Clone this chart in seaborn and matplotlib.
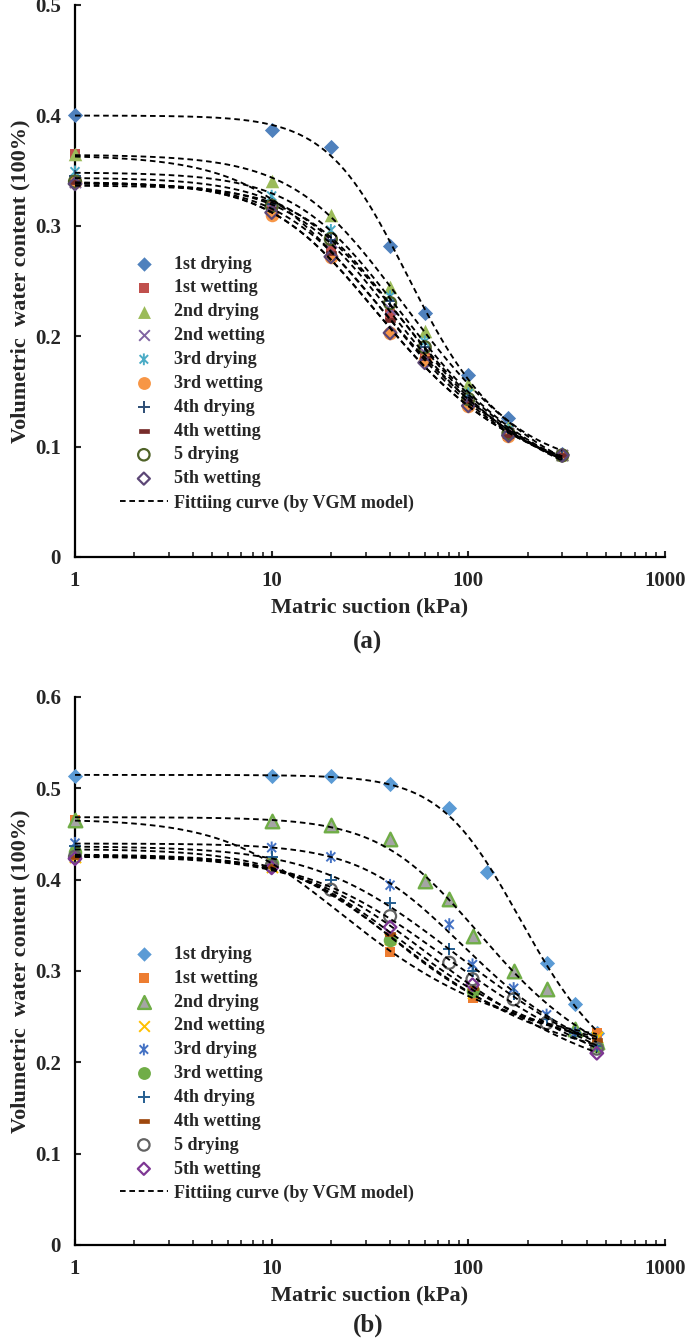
import numpy as np
import matplotlib
matplotlib.use("Agg")
import matplotlib.pyplot as plt
import seaborn as sns
from matplotlib.path import Path
from matplotlib.ticker import FuncFormatter, FixedLocator, LogLocator, NullFormatter

# ---- data ----
SERIES = ["1st drying", "1st wetting", "2nd drying", "2nd wetting", "3rd drying",
          "3rd wetting", "4th drying", "4th wetting", "5 drying", "5th wetting"]
FIT_LABEL = "Fittiing curve (by VGM model)"

# panel (a): every series measured at the same suctions
suction_a = [1, 10, 20, 40, 60, 100, 160, 300]
a_dry1 = [0.400, 0.387, 0.371, 0.282, 0.221, 0.165, 0.126, 0.093]
a_wet1 = [0.365, 0.318, 0.280, 0.220, 0.180, 0.140, 0.110, 0.092]
a_dry2 = [0.365, 0.341, 0.310, 0.245, 0.205, 0.157, 0.118, 0.093]
a_wet2 = [0.340, 0.315, 0.285, 0.225, 0.185, 0.140, 0.112, 0.092]
a_dry3 = [0.349, 0.327, 0.296, 0.236, 0.195, 0.148, 0.115, 0.092]
a_wet3 = [0.340, 0.310, 0.272, 0.203, 0.178, 0.137, 0.110, 0.092]
a_dry4 = [0.345, 0.320, 0.287, 0.232, 0.190, 0.145, 0.113, 0.092]
a_wet4 = [0.340, 0.315, 0.275, 0.215, 0.180, 0.140, 0.110, 0.092]
a_dry5 = [0.340, 0.318, 0.288, 0.230, 0.190, 0.143, 0.112, 0.092]
a_wet5 = [0.338, 0.312, 0.272, 0.203, 0.176, 0.137, 0.110, 0.092]

# panel (b)
b_suction_dry1 = [1, 10, 20, 40, 80, 125, 250, 350, 450]
b_dry1 = [0.513, 0.513, 0.513, 0.505, 0.478, 0.408, 0.309, 0.264, 0.232]
b_suction_dry2 = [1, 10, 20, 40, 60, 80, 105, 170, 250, 350, 450]
b_dry2 = [0.465, 0.464, 0.460, 0.444, 0.398, 0.379, 0.338, 0.300, 0.280, 0.236, 0.222]
b_suction_dry34 = [1, 10, 20, 40, 80, 105, 170, 250, 350, 450]
b_dry3 = [0.440, 0.435, 0.425, 0.394, 0.351, 0.307, 0.281, 0.252, 0.232, 0.222]
b_dry4 = [0.437, 0.425, 0.400, 0.374, 0.324, 0.300, 0.275, 0.247, 0.232, 0.218]
b_suction_dry5 = [1, 10, 20, 40, 80, 105, 170, 250, 450]
b_dry5 = [0.425, 0.415, 0.389, 0.360, 0.309, 0.291, 0.269, 0.243, 0.215]
b_suction_wet = [1, 10, 40, 105, 450]
b_wet1 = [0.465, 0.418, 0.321, 0.270, 0.232]
b_wet2 = [0.425, 0.414, 0.335, 0.276, 0.228]
b_wet3 = [0.430, 0.418, 0.334, 0.278, 0.218]
b_wet4 = [0.425, 0.415, 0.340, 0.281, 0.225]
b_wet5 = [0.423, 0.413, 0.348, 0.285, 0.210]

panel_a = [(suction_a, v) for v in
           [a_dry1, a_wet1, a_dry2, a_wet2, a_dry3, a_wet3, a_dry4, a_wet4, a_dry5, a_wet5]]
panel_b = [(b_suction_dry1, b_dry1), (b_suction_wet, b_wet1),
           (b_suction_dry2, b_dry2), (b_suction_wet, b_wet2),
           (b_suction_dry34, b_dry3), (b_suction_wet, b_wet3),
           (b_suction_dry34, b_dry4), (b_suction_wet, b_wet4),
           (b_suction_dry5, b_dry5), (b_suction_wet, b_wet5)]

# ---- marker styles ----
STAR = Path([(0, -1), (0, 1), (-0.72, -0.72), (0.72, 0.72), (-0.72, 0.72), (0.72, -0.72)],
            [Path.MOVETO, Path.LINETO] * 3)
DASH = Path([(-1, -0.45), (1, -0.45), (1, 0.45), (-1, 0.45), (-1, -0.45)], closed=True)


def style(marker, s, fc, ec, lw=0.0):
    return dict(marker=marker, s=s, facecolor=fc, edgecolor=ec, linewidth=lw)


STYLE_A = [
    style("D", 60, "#4f81bd", "#4f81bd"),
    style("s", 55, "#c0504d", "#c0504d"),
    style("^", 95, "#9bbb59", "#9bbb59"),
    style("x", 65, "#8064a2", "#8064a2", 1.4),
    style(STAR, 80, "none", "#4bacc6", 1.4),
    style("o", 95, "#f79646", "#f79646"),
    style("+", 80, "#2c4d75", "#2c4d75", 1.4),
    style(DASH, 60, "#772c2a", "#772c2a", 0.5),
    style("o", 75, "none", "#4f6228", 1.6),
    style("D", 42, "none", "#5c4776", 1.6),
]
STYLE_B = [
    style("D", 60, "#5b9bd5", "#5b9bd5"),
    style("s", 55, "#ed7d31", "#ed7d31"),
    style("^", 95, "#a5a5a5", "#70ad47", 1.7),
    style("x", 65, "#ffc000", "#ffc000", 1.4),
    style(STAR, 80, "none", "#4472c4", 1.4),
    style("o", 95, "#70ad47", "#70ad47"),
    style("+", 80, "#255e91", "#255e91", 1.4),
    style(DASH, 60, "#9e480e", "#9e480e", 0.5),
    style("o", 75, "none", "#636363", 1.6),
    style("D", 42, "none", "#7e3794", 1.6),
]


def fit_vgm(h, th):
    # van Genuchten: grid on alpha, n; theta_r / theta_s by linear least squares
    h = np.asarray(h, float)
    th = np.asarray(th, float)
    al = 10 ** np.linspace(-3, 0.5, 141)
    nn = np.linspace(1.05, 8, 140)
    A, N = al[:, None, None], nn[None, :, None]
    S = (1 + (A * h) ** N) ** (-(1 - 1 / N))
    dS = S - S.mean(-1, keepdims=True)
    dT = th - th.mean()
    with np.errstate(invalid="ignore", divide="ignore"):
        d = (dS * dT).sum(-1) / (dS ** 2).sum(-1)
    tr = th.mean() - d * S.mean(-1)
    sse = ((tr[..., None] + d[..., None] * S - th) ** 2).sum(-1)
    sse = np.where(np.isfinite(sse) & (d > 0), sse, np.inf)
    i, j = np.unravel_index(np.argmin(sse), sse.shape)
    return al[i], nn[j], tr[i, j], tr[i, j] + d[i, j]


def vgm(h, alpha, n, tr, ts):
    return tr + (ts - tr) / (1 + (alpha * h) ** n) ** (1 - 1 / n)


sns.set_style("ticks")
plt.rcParams["font.family"] = ["Liberation Serif", "DejaVu Serif"]
plt.rcParams["font.weight"] = "bold"
plt.rcParams["axes.labelweight"] = "bold"
plt.rcParams["xtick.direction"] = "in"
plt.rcParams["ytick.direction"] = "in"

fig = plt.figure(figsize=(6.85, 13.4), dpi=100)
ax_a = fig.add_axes([75 / 685, 1 - 557 / 1340, 590 / 685, 552 / 1340])
ax_b = fig.add_axes([75 / 685, 1 - 1245 / 1340, 590 / 685, 548 / 1340])


def draw(ax, panel, styles, ytop, tag, tag_y):
    for name, (x, y), st in zip(SERIES, panel, styles):
        sns.scatterplot(x=x, y=y, ax=ax, label=name, zorder=3, clip_on=False, **st)
    for i, (x, y) in enumerate(panel):
        p = fit_vgm(x, y)
        hh = np.logspace(0, np.log10(max(x)), 200)
        sns.lineplot(x=hh, y=vgm(hh, *p), ax=ax, color="black", lw=1.35,
                     linestyle=(0, (3, 2)), sort=False, estimator=None,
                     label=FIT_LABEL if i == 0 else "_nolegend_", zorder=4)
    ax.set_xscale("log")
    ax.set_xlim(1, 1000)
    ax.set_ylim(0, ytop)
    ax.yaxis.set_major_locator(FixedLocator(np.arange(0, ytop + 1e-9, 0.1)))
    ax.yaxis.set_major_formatter(FuncFormatter(lambda v, _: "0" if abs(v) < 1e-9 else f"{v:.1f}"))
    ax.xaxis.set_major_locator(FixedLocator([1, 10, 100, 1000]))
    ax.xaxis.set_major_formatter(FuncFormatter(lambda v, _: f"{v:g}"))
    ax.xaxis.set_minor_locator(LogLocator(base=10, subs=np.arange(2, 10)))
    ax.xaxis.set_minor_formatter(NullFormatter())
    for s in ["top", "right"]:
        ax.spines[s].set_visible(False)
    for s in ["left", "bottom"]:
        ax.spines[s].set_linewidth(1.6)
        ax.spines[s].set_color("black")
    ax.tick_params(axis="y", which="major", length=4, width=1.5, pad=10, labelsize=15)
    ax.tick_params(axis="x", which="major", length=4.5, width=1.5, pad=10, labelsize=15)
    ax.tick_params(axis="x", which="minor", length=3.5, width=1.2)
    ax.set_xlabel("Matric suction (kPa)", fontsize=16, labelpad=5)
    ax.set_ylabel("Volumetric  water content (100%)", fontsize=16, labelpad=3)
    h, l = ax.get_legend_handles_labels()
    order = [l.index(n) for n in SERIES] + [l.index(FIT_LABEL)]
    ax.legend([h[k] for k in order], [l[k] for k in order], loc="upper left",
              bbox_to_anchor=(0.076, 0.546), frameon=False, borderpad=0, borderaxespad=0,
              fontsize=13, labelspacing=0.38, handlelength=2.66, handletextpad=0.35,
              markerscale=0.95, scatterpoints=1)
    fig.text(368 / 685, 1 - tag_y / 1340, tag, ha="center", va="center", fontsize=18,
             fontweight="bold")


draw(ax_a, panel_a, STYLE_A, 0.5, "(a)", 642)
draw(ax_b, panel_b, STYLE_B, 0.6, "(b)", 1325)

fig.savefig("out.png", dpi=100)
